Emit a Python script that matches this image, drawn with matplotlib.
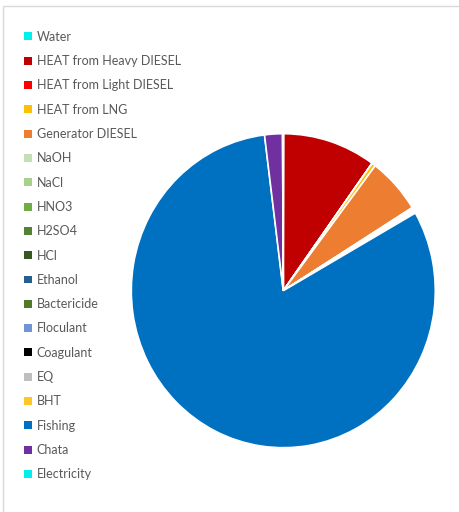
import matplotlib
matplotlib.use("Agg")
import matplotlib.pyplot as plt
from matplotlib.patches import Rectangle

# Share of each input in the total (percent)
categories = [
    "Water", "HEAT from Heavy DIESEL", "HEAT from Light DIESEL", "HEAT from LNG",
    "Generator DIESEL", "NaOH", "NaCl", "HNO3", "H2SO4", "HCl", "Ethanol",
    "Bactericide", "Floculant", "Coagulant", "EQ", "BHT", "Fishing", "Chata",
    "Electricity",
]
shares = [0.05, 9.9, 0.02, 0.4, 5.8, 0.08, 0.08, 0.08, 0.08, 0.08, 0.05,
          0.05, 0.05, 0.03, 0.03, 0.03, 81.5, 1.9, 0.08]
colors = [
    "#00F0F0", "#C00000", "#FF0000", "#FFC000", "#ED7D31", "#C5E0B4", "#A9D18E",
    "#70AD47", "#548235", "#385723", "#255E91", "#4E7A2A", "#7094D8", "#000000",
    "#BFBFBF", "#FFC62A", "#0070C0", "#7030A0", "#00F0F0",
]

W, H = 459, 512
fig = plt.figure(figsize=(W / 100, H / 100), dpi=100)
fig.patch.set_facecolor("white")

# Chart-area frame
fig.add_artist(Rectangle((2.5 / W, -0.1), 1.2, (H - 5.5) / H + 0.1,
                         transform=fig.transFigure, fill=False,
                         edgecolor="#D9D9D9", linewidth=1.0))

cx, cy = 283.3, H - 290.7
rx, ry = 152, 157
ax = fig.add_axes([(cx - rx) / W, (cy - ry) / H, 2 * rx / W, 2 * ry / H])
wedges, _ = ax.pie(shares, colors=colors, startangle=90, counterclock=False,
                   radius=1.0,
                   wedgeprops=dict(edgecolor="white", linewidth=1.2))
ax.set_aspect("auto")
ax.set_xlim(-1, 1)
ax.set_ylim(-1, 1)
ax.axis("off")

leg = fig.legend(wedges, categories, loc="upper left",
                 bbox_to_anchor=(13 / W, 1 - 19.5 / H),
                 frameon=False, handlelength=0.6, handleheight=0.6,
                 handletextpad=0.4, labelspacing=0.985,
                 prop=dict(family="Lato", size=9.0), labelcolor="#595959")
for h in leg.legend_handles:
    h.set_edgecolor("none")

fig.savefig("out.png", dpi=100, facecolor="white")
